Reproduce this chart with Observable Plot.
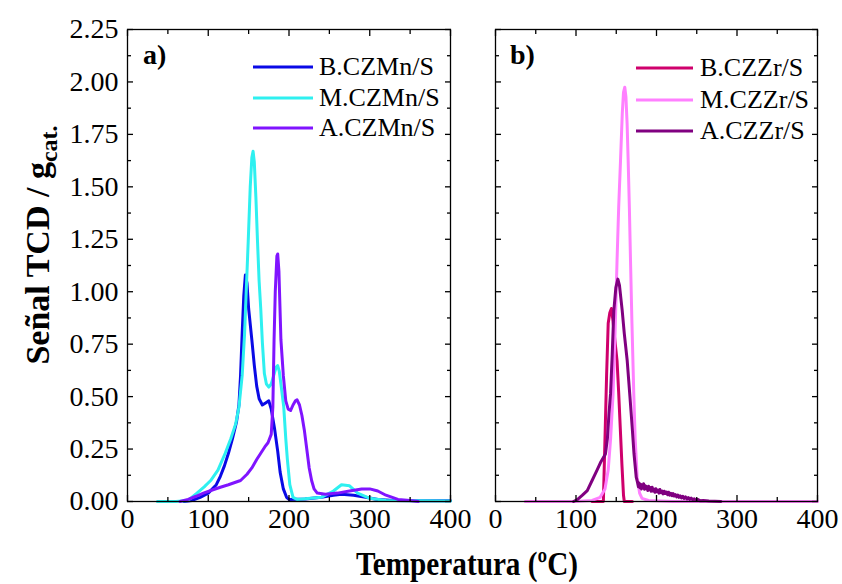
<!DOCTYPE html>
<html>
<head>
<meta charset="utf-8">
<script src="https://cdn.jsdelivr.net/npm/d3@7"></script>
<script src="https://cdn.jsdelivr.net/npm/@observablehq/plot@0.6"></script>
<style>
  body { margin: 0; background: #fff; }
  #wrap { position: relative; width: 842px; height: 584px; overflow: hidden; font-family: "Liberation Serif", "Times New Roman", serif; }
  .panel { position: absolute; top: 0; }
  #overlay { position: absolute; left: 0; top: 0; pointer-events: none; }
  #wrap svg, #wrap svg text { font-family: "Liberation Serif", "Times New Roman", serif !important; }
</style>
</head>
<body>
<div id="wrap">
  <div id="left" class="panel" style="left:0"></div>
  <div id="right" class="panel" style="left:470px"></div>
  <svg id="overlay" width="842" height="584"></svg>
</div>
<script>
// ---- Data (temperature °C, TCD signal / g_cat) ----
const xMajorTicks = [0, 100, 200, 300, 400];
const xMinorTicks = [50, 150, 250, 350];
const yMajorTicks = [0, 0.25, 0.5, 0.75, 1, 1.25, 1.5, 1.75, 2, 2.25];
const yMinorTicks = [0.125, 0.375, 0.625, 0.875, 1.125, 1.375, 1.625, 1.875, 2.125];

const panelLabels = ["a)", "b)"];
const seriesNamesA = ["B.CZMn/S", "M.CZMn/S", "A.CZMn/S"];
const seriesNamesB = ["B.CZZr/S", "M.CZZr/S", "A.CZZr/S"];
const coloursA = ["#0a0ae6", "#2ef0f0", "#8014ff"];
const coloursB = ["#cf006c", "#ff80ff", "#800080"];

const bCZMn = [[70,0],[80,0.005],[90,0.02],[100,0.04],[110,0.08],[115,0.12],[120,0.17],[125,0.23],[130,0.3],[135,0.38],[138,0.46],[140,0.6],[142,0.8],[144,0.98],[146,1.08],[148,1.04],[150,0.92],[154,0.77],[157,0.65],[160,0.55],[163,0.49],[167,0.46],[171,0.47],[175,0.48],[178,0.44],[182,0.35],[186,0.24],[189,0.14],[193,0.06],[197,0.02],[200,0.01],[220,0.012],[240,0.02],[255,0.03],[265,0.035],[280,0.03],[295,0.02],[310,0.01],[330,0.005],[360,0.003],[400,0.003]];
const mCZMn = [[37,0],[60,0],[75,0.005],[86,0.04],[95,0.07],[103,0.1],[112,0.15],[121,0.23],[128,0.3],[134,0.37],[138,0.45],[142,0.6],[145,0.8],[147,1.0],[149.5,1.24],[152,1.5],[154,1.64],[155.5,1.67],[157,1.62],[159,1.45],[161,1.24],[163,1.05],[165,0.92],[167,0.76],[169.5,0.61],[172,0.56],[175,0.545],[178,0.56],[181,0.6],[184,0.64],[186,0.648],[188,0.62],[190,0.56],[193.5,0.45],[196,0.3],[198,0.2],[201,0.08],[205,0.02],[210,0.01],[240,0.02],[255,0.05],[265,0.08],[275,0.075],[285,0.04],[300,0.015],[320,0.005],[400,0.002]];
const aCZMn = [[65,0],[75,0.01],[85,0.025],[94,0.04],[105,0.055],[115,0.068],[125,0.08],[140,0.1],[148,0.13],[154,0.16],[160,0.2],[165,0.23],[170,0.26],[174,0.28],[178,0.32],[180,0.45],[181.5,0.77],[183,1.0],[185,1.17],[186,1.18],[187.5,1.1],[190,0.77],[193,0.6],[196,0.48],[199,0.44],[202,0.434],[205,0.46],[208,0.48],[210,0.485],[213,0.46],[216,0.41],[219,0.34],[222,0.25],[225,0.16],[228,0.1],[231,0.06],[235,0.04],[245,0.035],[260,0.04],[275,0.05],[290,0.06],[300,0.06],[310,0.05],[320,0.03],[335,0.01],[350,0.005],[360,0]];

const bCZZr = [[120,0],[134,0],[136,0.3],[138,0.6],[140,0.85],[142,0.9],[144,0.92],[146,0.86],[148,0.78],[151,0.67],[153,0.52],[155,0.35],[157,0.18],[159,0.03],[160,0],[170,0]];
const mCZZr = [[37,0],[100,0],[120,0.005],[130,0.02],[136,0.06],[140,0.15],[143,0.3],[146,0.51],[148.5,0.8],[151,1.15],[153,1.4],[155.3,1.625],[157.5,1.85],[159,1.95],[160.6,1.975],[162,1.93],[163.5,1.8],[164.8,1.625],[166.3,1.4],[167.7,1.15],[169.5,0.85],[171.8,0.51],[173.5,0.3],[176,0.116],[179,0.04],[182,0.015],[190,0.005],[220,0],[400,0]];
const aCZZr = [[97,0],[102,0.01],[108,0.03],[114,0.052],[120,0.1],[126,0.148],[131,0.19],[136.6,0.227],[139,0.3],[141,0.42],[142.9,0.513],[145,0.7],[147,0.91],[149.5,1.02],[152,1.06],[154,1.03],[157.4,0.91],[160,0.8],[163.6,0.672],[167,0.5],[169.8,0.354],[172,0.23],[174.8,0.116],[176.5,0.09],[177.5,0.07],[178.3,0.088],[179.5,0.066],[180.2,0.082],[181.4,0.06],[182,0.079],[183.2,0.067],[184,0.085],[185.1,0.058],[186,0.075],[187.3,0.062],[188,0.07],[189.2,0.052],[190.1,0.073],[191.4,0.056],[192.5,0.066],[193.3,0.049],[194.6,0.068],[195.8,0.05],[196.7,0.059],[198,0.044],[199.1,0.061],[200.4,0.047],[201.6,0.055],[203,0.04],[204.2,0.057],[205.7,0.042],[207,0.05],[208.3,0.036],[209.6,0.049],[211,0.038],[212.4,0.045],[213.8,0.032],[215,0.044],[216.5,0.03],[217.8,0.039],[219.3,0.028],[220.6,0.038],[222,0.026],[223.5,0.033],[225,0.022],[226.4,0.031],[228,0.02],[229.5,0.027],[231,0.017],[232.6,0.025],[234.2,0.015],[236,0.022],[237.8,0.012],[239.5,0.019],[241.3,0.01],[243,0.016],[245,0.008],[247,0.013],[249,0.006],[251,0.01],[254,0.004],[258,0.005],[265,0.002],[280,0]];

const seriesA = [bCZMn, mCZMn, aCZMn];
const seriesB = [bCZZr, mCZZr, aCZZr];

const FONT = "'Liberation Serif', 'Times New Roman', serif";

function panel(series, colours, opts) {
  const marks = [];
  series.forEach((s, i) => {
    marks.push(Plot.line(s, {x: d => d[0], y: d => d[1], stroke: colours[i], strokeWidth: 3}));
  });
  marks.push(Plot.frame({stroke: "#000", strokeWidth: 1.3}));
  for (const anchor of ["bottom", "top"]) {
    marks.push(Plot.axisX({anchor, ticks: xMajorTicks, tickSize: -6, text: null, label: null, strokeWidth: 1.3}));
    marks.push(Plot.axisX({anchor, ticks: xMinorTicks, tickSize: -4, text: null, label: null, strokeWidth: 1.3}));
  }
  for (const anchor of ["left", "right"]) {
    marks.push(Plot.axisY({anchor, ticks: yMajorTicks, tickSize: -6, text: null, label: null, strokeWidth: 1.3}));
    marks.push(Plot.axisY({anchor, ticks: yMinorTicks, tickSize: -4, text: null, label: null, strokeWidth: 1.3}));
  }
  marks.push(Plot.axisX({anchor: "bottom", ticks: xMajorTicks, tickSize: 0, tickPadding: 7, tickFormat: d => String(d), label: null, fontSize: 28, fontFamily: FONT}));
  if (opts.yLabels) {
    marks.push(Plot.axisY({anchor: "left", ticks: yMajorTicks, tickSize: 0, tickPadding: 9, tickFormat: d3.format(".2f"), label: null, fontSize: 28, fontFamily: FONT}));
  }
  return Plot.plot({
    width: opts.width, height: 530,
    marginLeft: opts.marginLeft, marginRight: opts.marginRight,
    marginTop: 29, marginBottom: 29,
    x: {domain: [0, 400]},
    y: {domain: [0, 2.25]},
    style: {fontFamily: FONT, fontSize: "28px", color: "#000", background: "transparent", overflow: "visible"},
    marks
  });
}

document.getElementById("left").appendChild(panel(seriesA, coloursA, {width: 470, marginLeft: 127, marginRight: 20, yLabels: true}));
document.getElementById("right").appendChild(panel(seriesB, coloursB, {width: 372, marginLeft: 25, marginRight: 25, yLabels: false}));

// ---- overlay: titles, panel labels, legends ----
const ov = d3.select("#overlay");
ov.append("text").attr("x", 467).attr("y", 575).attr("text-anchor", "middle")
  .attr("font-family", FONT).attr("font-weight", "bold").attr("font-size", 33)
  .attr("textLength", 222).attr("lengthAdjust", "spacingAndGlyphs")
  .text("Temperatura (ºC)");
const yt = ov.append("text").attr("transform", "translate(49,245) rotate(-90)").attr("text-anchor", "middle")
  .attr("font-family", FONT).attr("font-weight", "bold").attr("font-size", 34);
yt.append("tspan").text("Señal TCD / g");
yt.append("tspan").attr("dy", 8).attr("font-size", 24).text("cat.");

[[143, panelLabels[0]], [510, panelLabels[1]]].forEach(([x, t]) => {
  ov.append("text").attr("x", x).attr("y", 64).attr("font-family", FONT)
    .attr("font-weight", "bold").attr("font-size", 28).text(t);
});

function legend(x0, x1, tx, ys, names, colours) {
  names.forEach((n, i) => {
    ov.append("line").attr("x1", x0).attr("x2", x1).attr("y1", ys[i]).attr("y2", ys[i])
      .attr("stroke", colours[i]).attr("stroke-width", 3);
    ov.append("text").attr("x", tx).attr("y", ys[i] + 8).attr("font-family", FONT)
      .attr("font-size", 26).text(n);
  });
}
legend(253, 313, 319, [67, 98, 128], seriesNamesA, coloursA);
legend(636, 693, 700, [68, 100, 131], seriesNamesB, coloursB);
</script>
</body>
</html>
